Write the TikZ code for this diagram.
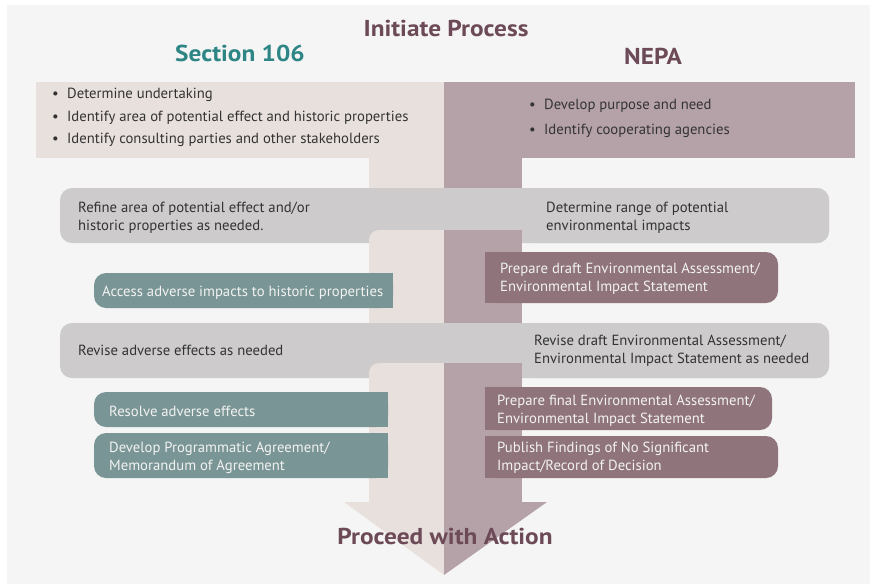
\documentclass[tikz,border=0pt]{standalone}
\usepackage{fontspec}
\setmainfont{PT Sans}
\newfontfamily\headfont[FakeStretch=1.1]{PT Sans}
\definecolor{bg}{HTML}{F5F5F5}
\definecolor{beige}{HTML}{E8E0DC}
\definecolor{mauveL}{HTML}{B5A2A8}
\definecolor{grayBar}{HTML}{CDCBCC}
\definecolor{tealBox}{HTML}{7A9595}
\definecolor{mauveD}{HTML}{8F747B}
\definecolor{titleM}{HTML}{6D4A57}
\definecolor{tealT}{HTML}{2D8585}
\definecolor{textD}{HTML}{333333}
\definecolor{textW}{HTML}{F2F2F2}
\tikzset{
  body/.style={font=\fontsize{14.7}{18}\selectfont, text=textD, anchor=west, align=left, inner sep=0pt, yshift=-1.5pt},
  wbody/.style={body, text=textW},
  head/.style={font=\headfont\fontsize{23}{27}\selectfont\bfseries, inner sep=0pt, yshift=-1pt},
  bul/.style={body},
}
\newcommand{\bt}[1]{\makebox[15pt][l]{•}#1}
\begin{document}
\begin{tikzpicture}[x=1pt,y=-1pt]
\useasboundingbox (0,0) rectangle (870,584);
\fill[white] (0,0) rectangle (870,584);
\fill[bg] (7,5) rectangle (870,584);
% top boxes and stems
\fill[beige] (36,82) rectangle (444,158);
\fill[mauveL] (444,82) rectangle (855,158);
\fill[beige] (369,158) rectangle (444,502);
\fill[mauveL] (444,158) rectangle (522,502);
% gray bar 1
\fill[grayBar, rounded corners=12pt] (60,188) rectangle (829,243);
\fill[beige, rounded corners=10pt] (369,230) rectangle (454,333);
\fill[mauveL] (444,230) rectangle (522,323);
\fill[grayBar, rounded corners=12pt] (522,188) rectangle (829,243);
% gray bar 2
\fill[grayBar, rounded corners=12pt] (60,323) rectangle (829,378);
\fill[beige, rounded corners=10pt] (369,363) rectangle (454,512);
\fill[mauveL] (444,363) rectangle (522,502);
\fill[grayBar, rounded corners=12pt] (522,323) rectangle (829,378);
% arrow head
\fill[beige] (344,502) -- (444,502) -- (444,575) -- cycle;
\fill[mauveL] (444,502) -- (547,502) -- (444,575) -- cycle;
% teal boxes (rounded left)
\fill[tealBox, rounded corners=12pt] (94,273) rectangle (393,308);
\fill[tealBox] (370,273) rectangle (393,308);
\fill[tealBox, rounded corners=12pt] (94,392) rectangle (388,427);
\fill[tealBox] (365,392) rectangle (388,427);
\fill[tealBox, rounded corners=12pt] (94,433) rectangle (388,478);
\fill[tealBox] (365,433) rectangle (388,478);
% mauve boxes (rounded right)
\fill[mauveD, rounded corners=12pt] (485,252) rectangle (778,303);
\fill[mauveD] (485,252) rectangle (510,303);
\fill[mauveD, rounded corners=12pt] (485,387) rectangle (772,430);
\fill[mauveD] (485,387) rectangle (510,430);
\fill[mauveD, rounded corners=12pt] (485,436) rectangle (778,478);
\fill[mauveD] (485,436) rectangle (510,478);
% headings
\node[head, text=titleM] (init) at (446,27) {Initiate Process};
\node[head, text=tealT] (sec) at (240,52) {Section 106};
\node[head, text=titleM] (nepa) at (653,55) {NEPA};
\node[head, text=titleM] (proc) at (445,535) {Proceed with Action};
% top bullets
\node[bul] (b1) at (52,93) {\bt{Determine undertaking}};
\node[bul] (b2) at (52,116) {\bt{Identify area of potential effect and historic properties}};
\node[bul] (b3) at (52,138) {\bt{Identify consulting parties and other stakeholders}};
\node[bul] (b4) at (529,104) {\bt{Develop purpose and need}};
\node[bul] (b5) at (529,129) {\bt{Identify cooperating agencies}};
% bar texts
\node[body] (r1) at (78,216) {Refine area of potential effect and/or\\historic properties as needed.};
\node[body] (r2) at (546,216) {Determine range of potential\\environmental impacts};
\node[body] (r3) at (78,349) {Revise adverse effects as needed};
\node[body] (r4) at (534,349.5) {Revise draft Environmental Assessment/\\Environmental Impact Statement as needed};
% colored box texts
\node[wbody] (t1) at (102,291) {Access adverse impacts to historic properties};
\node[wbody] (t2) at (109,409.5) {Resolve adverse effects};
\node[wbody] (t3) at (109,456) {Develop Programmatic Agreement/\\Memorandum of Agreement};
\node[wbody] (m1) at (500,277) {Prepare draft Environmental Assessment/\\Environmental Impact Statement};
\node[wbody] (m2) at (497,409) {Prepare final Environmental Assessment/\\Environmental Impact Statement};
\node[wbody] (m3) at (497,456) {Publish Findings of No Significant\\Impact/Record of Decision};
\end{tikzpicture}
\end{document}
